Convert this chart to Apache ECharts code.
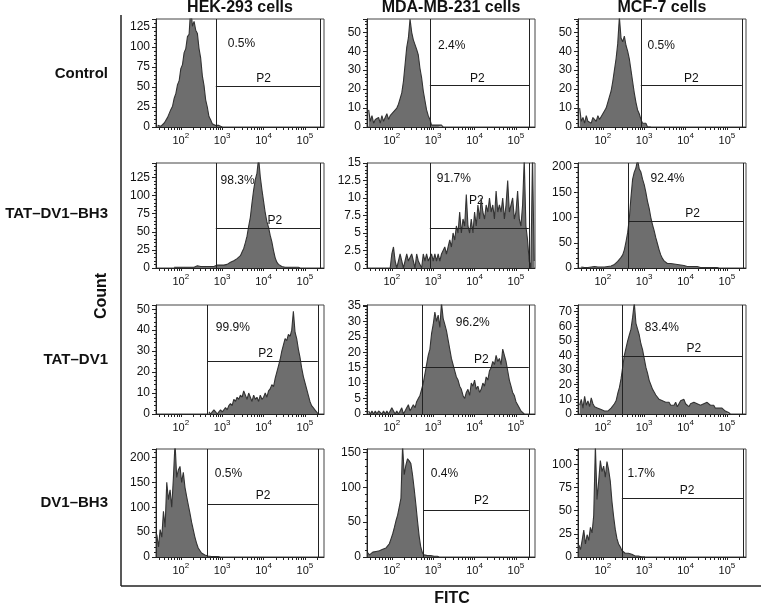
<!DOCTYPE html>
<html><head><meta charset="utf-8">
<script src="https://cdn.jsdelivr.net/npm/echarts@6/dist/echarts.min.js"></script>
<style>html,body{margin:0;padding:0;background:#fff}#c{width:761px;height:605px}</style>
</head><body><div id="c"></div>
<script>
// ---------- labels ----------
const cellLines = ['HEK-293 cells', 'MDA-MB-231 cells', 'MCF-7 cells'];
const treatments = ['Control', 'TAT\u2013DV1\u2013BH3', 'TAT\u2013DV1', 'DV1\u2013BH3'];
const xTickExponents = [2, 3, 4, 5];
const gateName = 'P2';
const percentLabels = [
  ['0.5%', '2.4%', '0.5%'],
  ['98.3%', '91.7%', '92.4%'],
  ['99.9%', '96.2%', '83.4%'],
  ['0.5%', '0.4%', '1.7%']
];
// y axis ranges (counts) and label steps
const yMax = [[135, 57, 57], [145, 15, 208], [52, 35.3, 74.5], [217, 155, 116.5]];
const yStep = [[25, 10, 10], [25, 2.5, 50], [10, 5, 10], [50, 50, 25]];
// gate P2 (log10 FITC) and its bar level (count)
const gateLow = [[2.846, 2.918, 2.918], [2.846, 2.918, 2.61], [2.646, 2.74, 2.46], [2.646, 2.76, 2.46]];
const gateHigh = [[5.376, 5.33, 5.36], [5.37, 5.31, 5.4], [5.31, 5.31, 5.38], [5.31, 5.31, 5.4]];
const gateLevel = [[51, 22, 22], [54.8, 5.67, 92.5], [25.3, 15.3, 39.6], [106.5, 67.5, 63.3]];

// ---------- histogram counts (bins of 0.04 log10 units from the given start) ----------
const binStep = 0.04;
const hekControlStart = 1.44;
const hekControl = [2,4,1,3,5,7,12,14,22,26,36,42,53,58,73,78,93,98,113,116,150,126,132,121,117,98,86,64,52,34,25,13,9,4,3,2,1,2,1,0];
const mdaControlStart = 1.44;
const mdaControl = [9,3,6,2,4,3,5,2,6,3,5,7,4,6,5,8,7,10,12,15,18,24,33,42,47,57,50,46,47,41,38,31,26,19,14,9,6,4,1,2,1,0,1,0,1,0];
const mcfControlStart = 1.44;
const mcfControl = [10,3,5,2,6,3,4,2,5,4,3,6,4,5,7,8,10,13,16,19,24,30,36,44,58,47,45,48,43,40,36,30,24,18,13,9,7,4,2,1,2,0,1,0];

const hekTatDvBhStart = 1.84;
const hekTatDvBh = [1,0,1,0,1,2,1,0,1,2,1,2,1,2,3,1,2,3,2,1,2,3,2,3,2,3,4,3,4,5,4,6,5,7,8,7,10,11,13,15,17,22,27,35,44,58,70,90,108,122,131,152,126,108,92,76,64,56,45,36,24,14,8,5,3,2,3,1,2,1,2,1,0,1,2,1,0];
const mdaTatDvBhStart = 1.96;
const mdaTatDvBh = [0,2,3,1,0,1,2,1,0,1,2,1,1,2,1,0,2,1,1,0,2,1,2,1,1,2,1,2,1,2,1,2,2,3,2,3,4,3,5,4,6,5,8,5,7,6,10.5,6,5,7,5,8,6,9,7,10,8,7,9,8,10,8,9,7,11,8,9,8,10,7,9,12.5,8,9,10,7,8,11,7,6,9,15.5,6,4,1,0,16,1];
const mcfTatDvBhStart = 1.48;
const mcfTatDvBh = [2,0,1,2,1,0,2,1,3,1,2,3,2,3,2,4,3,5,4,6,7,10,13,16,21,26,36,52,70,98,140,176,190,198,215,196,190,176,165,150,132,118,100,86,74,60,48,36,26,19,14,11,9,8,9,7,8,6,7,5,6,4,5,4,3,4,3,2,3,2,3,2,1,2,1,2,1,0,1,2,1,0,1,0];

const hekTatDvStart = 2.68;
const hekTatDv = [1,0,1,2,1,0,1,2,1,2,3,2,4,5,4,7,6,8,7,9,8,11,9,7,10,8,6,9,7,8,6,9,7,8,10,8,11,12,14,13,17,20,23,26,30,33,36,35,38,37,40,49,39,36,31,27,22,18,15,12,9,6,4,3,2,1,0];
const mdaTatDvStart = 1.44;
const mdaTatDv = [1,0,1,0,1,0,1,1,0,1,0,1,0,1,2,1,0,1,0,1,2,0,1,2,3,1,2,3,2,4,5,6,8,10,13,16,19,21,26,29,33,30,32,28,36,31,29,27,24,21,18,16,14,12,11,9,8,6,5,7,8,6,10,9,11,8,9,7,8,10,9,12,11,14,15,17,16,19,17,18,16,21,19,17,14,11,9,7,6,4,3,2,1,1,0];
const mcfTatDvStart = 1.44;
const mcfTatDv = [6,10,4,12,6,9,5,11,7,5,6,4,5,3,4,2,3,2,3,4,5,7,9,14,18,24,32,40,45,50,54,58,66,76,62,58,54,48,44,38,32,28,23,20,17,15,13,12,10,11,9,10,8,7,8,6,7,6,8,5,7,9,8,10,7,6,5,7,6,8,9,7,8,6,5,7,6,8,7,6,5,6,4,5,4,3,4,3,2,1,1,0];

const hekDvBhStart = 1.42;
const hekDvBh = [45,20,55,40,92,60,150,115,135,100,158,230,160,175,182,150,170,140,122,105,88,70,55,40,28,18,13,8,6,4,3,2,3,1,2,1,0,1,0];
const mdaDvBhStart = 1.42;
const mdaDvBh = [6,3,4,7,5,8,6,9,8,11,9,13,16,19,26,33,42,52,60,72,84,160,118,132,141,138,134,118,98,76,52,30,14,6,3,1,2,1,2,0,1,2,1,0];
const mcfDvBhStart = 1.42;
const mcfDvBh = [13,8,18,29,14,24,18,32,26,45,120,62,82,104,92,98,86,103,94,82,60,44,30,20,14,11,7,5,4,3,4,2,3,2,1,2,1,2,0,1,0];

const histograms = [
  [[hekControlStart, hekControl], [mdaControlStart, mdaControl], [mcfControlStart, mcfControl]],
  [[hekTatDvBhStart, hekTatDvBh], [mdaTatDvBhStart, mdaTatDvBh], [mcfTatDvBhStart, mcfTatDvBh]],
  [[hekTatDvStart, hekTatDv], [mdaTatDvStart, mdaTatDv], [mcfTatDvStart, mcfTatDv]],
  [[hekDvBhStart, hekDvBh], [mdaDvBhStart, mdaDvBh], [mcfDvBhStart, mcfDvBh]]
];

// ---------- layout (positions only) ----------
const FONT = 'Liberation Sans, Arial, sans-serif';
const colLeft = [156, 367, 578];
const plotW = 168;
const rowTop = [19, 163, 305, 449];
const rowH = [108, 105, 109, 108];
const X_MIN = 1.4, X_MAX = 5.46;
// text anchors in data coords [log10 x, count]
const pctPos = [
  [[3.135, 104], [3.118, 42.7], [3.08, 42.7]],
  [[2.96, 120.6], [3.087, 12.7], [3.152, 177.7]],
  [[2.846, 41.2], [3.545, 29.7], [3.014, 59]],
  [[2.822, 168], [2.942, 120], [2.598, 90.3]]
];
const p2Pos = [
  [[4.0, 60], [4.067, 25.3], [4.14, 25.3]],
  [[4.27, 64.9], [4.043, 9.57], [4.171, 107]],
  [[4.05, 29], [4.164, 17.7], [4.2, 44.6]],
  [[3.986, 123], [4.164, 80.4], [4.034, 71.5]]
];

const logTicks = [];
for (let e = 1; e <= 5; e++) for (let k = 1; k <= 9; k++) {
  const v = e + Math.log10(k);
  if (v >= X_MIN && v <= X_MAX) logTicks.push(v);
}

const grids = [], xAxes = [], yAxes = [], series = [];
for (let r = 0; r < 4; r++) {
  for (let c = 0; c < 3; c++) {
    const i = r * 3 + c;
    const ymax = yMax[r][c], step = yStep[r][c];
    grids.push({ left: colLeft[c], top: rowTop[r], width: plotW, height: rowH[r], show: true,
      borderColor: '#444', borderWidth: 1, backgroundColor: 'transparent' });
    xAxes.push({ gridIndex: i, type: 'value', min: X_MIN, max: X_MAX, position: 'bottom',
      axisLine: { show: true, onZero: false, lineStyle: { color: '#222', width: 1 } },
      splitLine: { show: false },
      axisTick: { show: true, length: 3, customValues: logTicks, lineStyle: { color: '#222' } },
      axisLabel: { show: true, customValues: xTickExponents, margin: 5, color: '#111',
        formatter: v => '{b|10}{s|' + Math.round(v) + '}',
        rich: { b: { fontSize: 11, lineHeight: 14, verticalAlign: 'bottom', fontFamily: FONT, color: '#111' },
                s: { fontSize: 8, lineHeight: 14, verticalAlign: 'top', fontFamily: FONT, color: '#111' } } }
    });
    yAxes.push({ gridIndex: i, type: 'value', min: 0, max: ymax, interval: step,
      axisLine: { show: true, lineStyle: { color: '#222', width: 1 } },
      splitLine: { show: false }, minorSplitLine: { show: false },
      axisTick: { show: true, length: 4, lineStyle: { color: '#222' } },
      minorTick: { show: true, splitNumber: 5, length: 2, lineStyle: { color: '#222' } },
      axisLabel: { fontSize: 12, color: '#111', margin: 6, fontFamily: FONT,
        formatter: v => (Math.abs(v / step - Math.round(v / step)) < 1e-6 ? String(v) : '') }
    });
    const [start, counts] = histograms[r][c];
    const data = counts.map((v, k) => [start + k * binStep, v]);
    const gL = gateLow[r][c], gR = gateHigh[r][c], gY = gateLevel[r][c];
    series.push({
      type: 'line', xAxisIndex: i, yAxisIndex: i, data, symbol: 'none', silent: true,
      animation: false, clip: true,
      lineStyle: { color: '#333', width: 1.1 },
      areaStyle: { color: '#6e6e6e', opacity: 1 },
      markLine: { symbol: ['none', 'none'], silent: true, animation: false, label: { show: false },
        lineStyle: { color: '#222', width: 1, type: 'solid' },
        emphasis: { disabled: true },
        data: [
          [{ coord: [gL, 0] }, { coord: [gL, ymax] }],
          [{ coord: [gR, 0] }, { coord: [gR, ymax] }],
          [{ coord: [gL, gY] }, { coord: [gR, gY] }]
        ] }
    });
    series.push({
      type: 'scatter', xAxisIndex: i, yAxisIndex: i, symbolSize: 0, silent: true, animation: false, clip: false,
      itemStyle: { opacity: 1 },
      data: [
        { value: pctPos[r][c], label: { show: true, position: 'right', distance: 0, formatter: percentLabels[r][c],
          fontSize: 12, color: '#111', fontFamily: FONT } },
        { value: p2Pos[r][c], label: { show: true, position: 'inside', formatter: gateName,
          fontSize: 12, color: '#111', fontFamily: FONT } }
      ]
    });
  }
}

const graphic = [
  { type: 'line', shape: { x1: 121, y1: 15, x2: 121, y2: 586 }, style: { stroke: '#222', lineWidth: 1.5 }, silent: true },
  { type: 'line', shape: { x1: 121, y1: 586, x2: 761, y2: 586 }, style: { stroke: '#222', lineWidth: 1.5 }, silent: true },
  { type: 'text', x: 102, y: 296, rotation: Math.PI / 2, silent: true,
    style: { text: 'Count', fontSize: 16, fontWeight: 'bold', fontFamily: FONT, fill: '#111', align: 'center', verticalAlign: 'middle' } },
  { type: 'text', x: 452, y: 599, silent: true,
    style: { text: 'FITC', fontSize: 16, fontWeight: 'bold', fontFamily: FONT, fill: '#111', align: 'center', verticalAlign: 'middle' } }
];
cellLines.forEach((t, c) => graphic.push({ type: 'text', x: colLeft[c] + plotW / 2, y: 8, silent: true,
  style: { text: t, fontSize: 16, fontWeight: 'bold', fontFamily: FONT, fill: '#111', align: 'center', verticalAlign: 'middle' } }));
const rowLabelY = [74, 214, 360, 503];
treatments.forEach((t, r) => graphic.push({ type: 'text', x: 108, y: rowLabelY[r], silent: true,
  style: { text: t, fontSize: 15, fontWeight: 'bold', fontFamily: FONT, fill: '#111', align: 'right', verticalAlign: 'middle' } }));

const chart = echarts.init(document.getElementById('c'), null, { renderer: 'canvas' });
chart.setOption({
  animation: false,
  backgroundColor: '#fff',
  textStyle: { fontFamily: FONT },
  grid: grids, xAxis: xAxes, yAxis: yAxes, series, graphic
});
</script>
</body></html>
